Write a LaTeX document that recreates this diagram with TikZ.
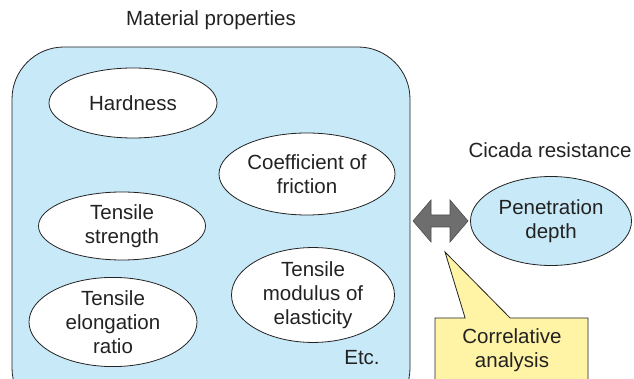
\documentclass[tikz,border=0pt]{standalone}
\usepackage{fontspec}
\setmainfont{Liberation Sans}
\usetikzlibrary{shapes.geometric, shapes.callouts}
\definecolor{propblue}{HTML}{C8E9F8}
\definecolor{notey}{HTML}{FFF3A6}
\definecolor{arrgray}{HTML}{6E6E6E}
\definecolor{inkgray}{HTML}{222222}

\begin{document}
\begin{tikzpicture}[x=1pt, y=-1pt,
  every node/.style={font=\fontsize{20.5}{24}\selectfont, text=inkgray,
                     align=center},
  prop/.style={ellipse, draw=inkgray, fill=white, line width=0.8pt,
               inner sep=0pt},
  lbl/.style={inner sep=0pt}
]
\useasboundingbox (0,0) rectangle (634,379);

% Material properties box (cut at the bottom)
\begin{scope}
  \clip (0,0) rectangle (634,379);
  \draw[draw=inkgray, fill=propblue, line width=0.8pt, rounded corners=52pt]
    (12,47) rectangle (410,420);
\end{scope}
\node[lbl] (title) at (211,20) {Material properties};

% Properties
\node[prop, minimum width=168pt, minimum height=70pt] (hard) at (133,103)
  {Hardness};
\node[prop, minimum width=176pt, minimum height=82pt] (fric) at (307,174)
  {Coefficient of\\friction};
\node[prop, minimum width=167pt, minimum height=68pt] (tstr) at (122,226)
  {Tensile\\strength};
\node[prop, minimum width=168pt, minimum height=83pt] (telong) at (113,322)
  {Tensile\\elongation\\ratio};
\node[prop, minimum width=163pt, minimum height=84pt] (tmod) at (313,295)
  {Tensile\\modulus of\\elasticity};
\node[lbl] (etc) at (362,358) {Etc.};

% Cicada resistance
\node[lbl] (cicada) at (550,150) {Cicada resistance};
\node[prop, fill=propblue, minimum width=161pt, minimum height=89pt] (pen)
  at (551,221) {Penetration\\depth};

% Double arrow between both sides
\coordinate (arr) at (440.5,221);
\filldraw[fill=arrgray, draw=arrgray!70!black, line width=0.6pt, shift={(arr)}]
  (-27.5,0) -- (-9.5,-21) -- (-9.5,-6) -- (9.5,-6) -- (9.5,-21) -- (27.5,0)
  -- (9.5,21) -- (9.5,6) -- (-9.5,6) -- (-9.5,21) -- cycle;

% Correlative analysis callout
\begin{scope}
  \clip (0,0) rectangle (634,379);
  \node[rectangle callout, draw=inkgray, fill=notey, line width=0.8pt,
        minimum width=153pt, minimum height=74pt, inner sep=0pt,
        callout absolute pointer={(445,252)}, callout pointer width=45pt]
    (corr) at (511.5,355) {};
\end{scope}
\node[lbl] (corrtxt) at (512,350) {Correlative\\analysis};

\end{tikzpicture}
\end{document}
